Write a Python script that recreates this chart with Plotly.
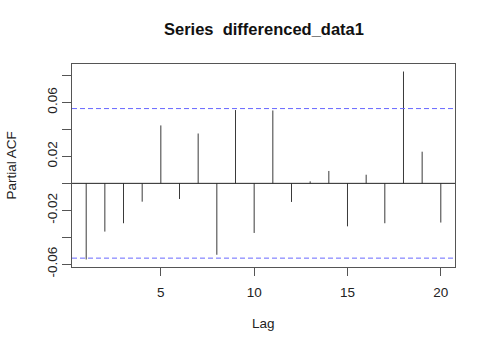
import plotly.graph_objects as go

# Partial autocorrelations of the differenced series, lags 1..20
lags = list(range(1, 21))
pacf = [-0.0565, -0.0358, -0.0296, -0.0136, 0.0430, -0.0116, 0.0370, -0.0530,
        0.0544, -0.0368, 0.0541, -0.0138, 0.0015, 0.0092, -0.0319, 0.0064,
        -0.0296, 0.0830, 0.0235, -0.0291]
conf_limit = 0.0555  # approximate 95% significance bound

x_ticks = [5, 10, 15, 20]
y_ticks = [-0.06, -0.04, -0.02, 0.0, 0.02, 0.04, 0.06, 0.08]
y_tick_text = ["-0.06", "", "-0.02", "", "0.02", "", "0.06", ""]

# vertical spikes from zero to each coefficient
xs, ys = [], []
for lag, v in zip(lags, pacf):
    xs += [lag, lag, None]
    ys += [0, v, None]

fig = go.Figure()
fig.add_trace(go.Scatter(x=xs, y=ys, mode="lines",
                         line=dict(color="#3a3a3a", width=1),
                         hoverinfo="skip", showlegend=False))

# R-style 4% padding around the data range
lo = min(min(pacf), -conf_limit)
hi = max(max(pacf), conf_limit)
pad_y = 0.04 * (hi - lo)
pad_x = 0.04 * (max(lags) - min(lags))

for c in (conf_limit, -conf_limit):
    fig.add_shape(type="line", xref="paper", x0=0, x1=1, yref="y", y0=c, y1=c,
                  line=dict(color="#6868ff", width=1, dash="5px,3px"), layer="above")
fig.add_shape(type="line", xref="paper", x0=0, x1=1, yref="y", y0=0, y1=0,
              line=dict(color="#222222", width=1), layer="above")

font = "Liberation Sans, Arial, sans-serif"
axis_font = dict(size=13.5, color="#222222", family=font)
fig.update_layout(
    width=492, height=348,
    margin=dict(l=72, r=37, t=64, b=81),
    paper_bgcolor="white", plot_bgcolor="white",
    font=dict(family=font, size=13.5, color="#111111"),
    xaxis=dict(range=[min(lags) - pad_x, max(lags) + pad_x],
               tickvals=x_ticks, ticks="outside", ticklen=8, tickcolor="#555555",
               showline=True, linecolor="#555555", mirror=True, showgrid=False,
               zeroline=False, tickfont=axis_font, ticklabelstandoff=5),
    yaxis=dict(range=[lo - pad_y, hi + pad_y],
               tickvals=y_ticks, ticktext=y_tick_text, tickangle=-90,
               ticks="outside", ticklen=9, tickcolor="#555555",
               showline=True, linecolor="#555555", mirror=True, showgrid=False,
               zeroline=False, tickfont=axis_font),
    annotations=[
        dict(text="<b>Series&nbsp; differenced_data1</b>", xref="paper", yref="paper",
             x=0.5, y=1, yshift=35, xanchor="center", yanchor="middle",
             showarrow=False, font=dict(size=16.5, color="#111111", family=font)),
        dict(text="Lag", xref="paper", yref="paper", x=0.5, y=0, yshift=-56,
             xanchor="center", yanchor="middle", showarrow=False, font=axis_font),
        dict(text="Partial ACF", xref="paper", yref="paper", x=0, y=0.5,
             xshift=-61, xanchor="center", yanchor="middle", textangle=-90,
             showarrow=False, font=axis_font),
    ],
)

fig.write_html("out.html")
